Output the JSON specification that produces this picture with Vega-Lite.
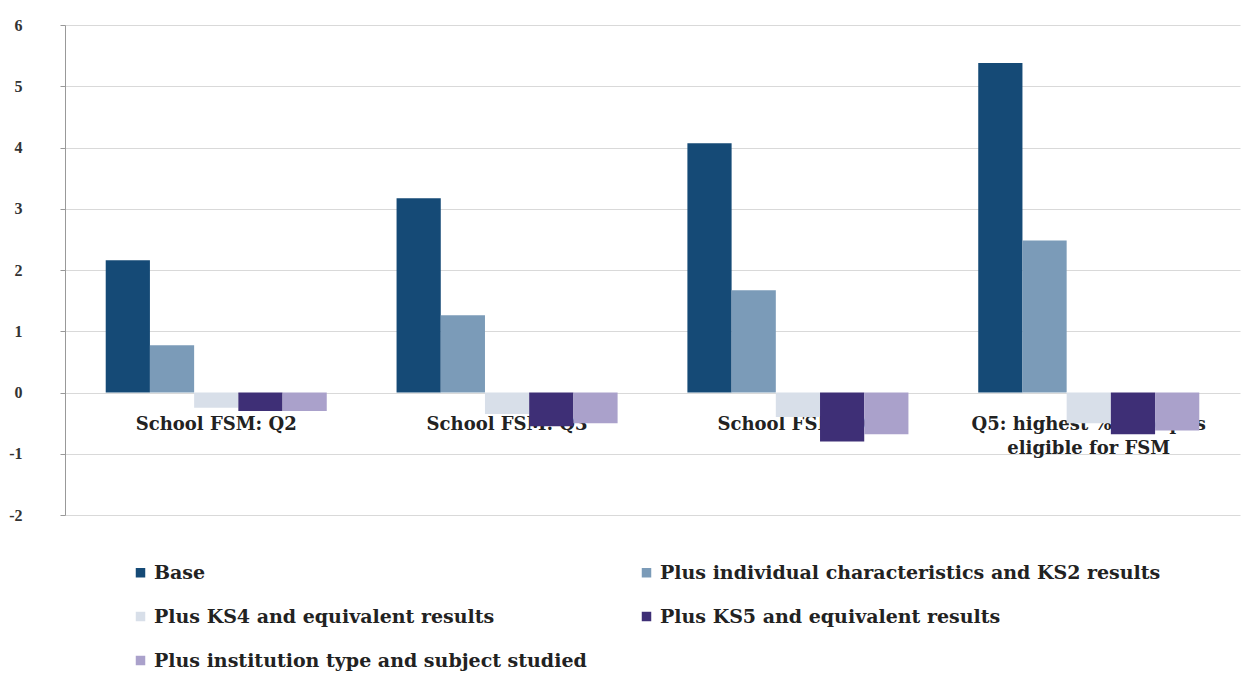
{
  "$schema": "https://vega.github.io/schema/vega-lite/v6.json",
  "width": 1175,
  "height": 490,
  "autosize": "none",
  "padding": {"left": 65, "top": 25, "right": 3, "bottom": 185},
  "background": "white",
  "data": {
    "values": [
      {"group": "School FSM: Q2", "series": "Base", "value": 2.16},
      {"group": "School FSM: Q2", "series": "Plus individual characteristics and KS2 results", "value": 0.77},
      {"group": "School FSM: Q2", "series": "Plus KS4 and equivalent results", "value": -0.25},
      {"group": "School FSM: Q2", "series": "Plus KS5 and equivalent results", "value": -0.3},
      {"group": "School FSM: Q2", "series": "Plus institution type and subject studied", "value": -0.3},
      {"group": "School FSM: Q3", "series": "Base", "value": 3.17},
      {"group": "School FSM: Q3", "series": "Plus individual characteristics and KS2 results", "value": 1.26},
      {"group": "School FSM: Q3", "series": "Plus KS4 and equivalent results", "value": -0.35},
      {"group": "School FSM: Q3", "series": "Plus KS5 and equivalent results", "value": -0.55},
      {"group": "School FSM: Q3", "series": "Plus institution type and subject studied", "value": -0.5},
      {"group": "School FSM: Q4", "series": "Base", "value": 4.07},
      {"group": "School FSM: Q4", "series": "Plus individual characteristics and KS2 results", "value": 1.67},
      {"group": "School FSM: Q4", "series": "Plus KS4 and equivalent results", "value": -0.4},
      {"group": "School FSM: Q4", "series": "Plus KS5 and equivalent results", "value": -0.8},
      {"group": "School FSM: Q4", "series": "Plus institution type and subject studied", "value": -0.68},
      {"group": "Q5: highest % of pupils|eligible for FSM", "series": "Base", "value": 5.38},
      {"group": "Q5: highest % of pupils|eligible for FSM", "series": "Plus individual characteristics and KS2 results", "value": 2.48},
      {"group": "Q5: highest % of pupils|eligible for FSM", "series": "Plus KS4 and equivalent results", "value": -0.5},
      {"group": "Q5: highest % of pupils|eligible for FSM", "series": "Plus KS5 and equivalent results", "value": -0.68},
      {"group": "Q5: highest % of pupils|eligible for FSM", "series": "Plus institution type and subject studied", "value": -0.62}
    ]
  },
  "mark": {"type": "bar", "stroke": null},
  "encoding": {
    "x": {
      "field": "group",
      "type": "nominal",
      "sort": null,
      "scale": {"paddingInner": 0.24, "paddingOuter": 0.14},
      "axis": {
        "title": null,
        "orient": "bottom",
        "offset": -122,
        "domain": false,
        "ticks": false,
        "labelAngle": 0,
        "labelPadding": 22,
        "labelFont": "DejaVu Serif",
        "labelFontSize": 18,
        "labelFontWeight": "bold",
        "labelColor": "#222222",
        "labelLimit": 400,
        "labelLineHeight": 24,
        "labelExpr": "split(datum.label, '|')"
      }
    },
    "xOffset": {
      "field": "series",
      "type": "nominal",
      "sort": null,
      "scale": {"paddingInner": 0, "paddingOuter": 0}
    },
    "y": {
      "field": "value",
      "type": "quantitative",
      "scale": {"domain": [-2, 6], "nice": false, "zero": true},
      "axis": {
        "title": null,
        "values": [-2, -1, 0, 1, 2, 3, 4, 5, 6],
        "grid": true,
        "gridColor": "#d9d9d9",
        "domainColor": "#999999",
        "tickColor": "#999999",
        "tickSize": 5,
        "labelFont": "Liberation Serif",
        "labelFontSize": 16,
        "labelFontWeight": "bold",
        "labelColor": "#333333",
        "labelPadding": 38,
        "labelExpr": "datum.value"
      }
    },
    "color": {
      "field": "series",
      "type": "nominal",
      "sort": null,
      "scale": {
        "domain": [
          "Base",
          "Plus individual characteristics and KS2 results",
          "Plus KS4 and equivalent results",
          "Plus KS5 and equivalent results",
          "Plus institution type and subject studied"
        ],
        "range": ["#154a76", "#7b9bb8", "#d8dfe9", "#3e2f76", "#aaa1cb"]
      },
      "legend": {
        "title": null,
        "orient": "none",
        "direction": "horizontal",
        "legendX": 66,
        "legendY": 538,
        "columns": 2,
        "columnPadding": 50,
        "rowPadding": 24,
        "symbolType": "square",
        "symbolSize": 90,
        "symbolStrokeWidth": 0,
        "labelFont": "DejaVu Serif",
        "labelFontSize": 19,
        "labelFontWeight": "bold",
        "labelColor": "#222222",
        "labelLimit": 700
      }
    }
  },
  "config": {
    "view": {"stroke": null}
  }
}
